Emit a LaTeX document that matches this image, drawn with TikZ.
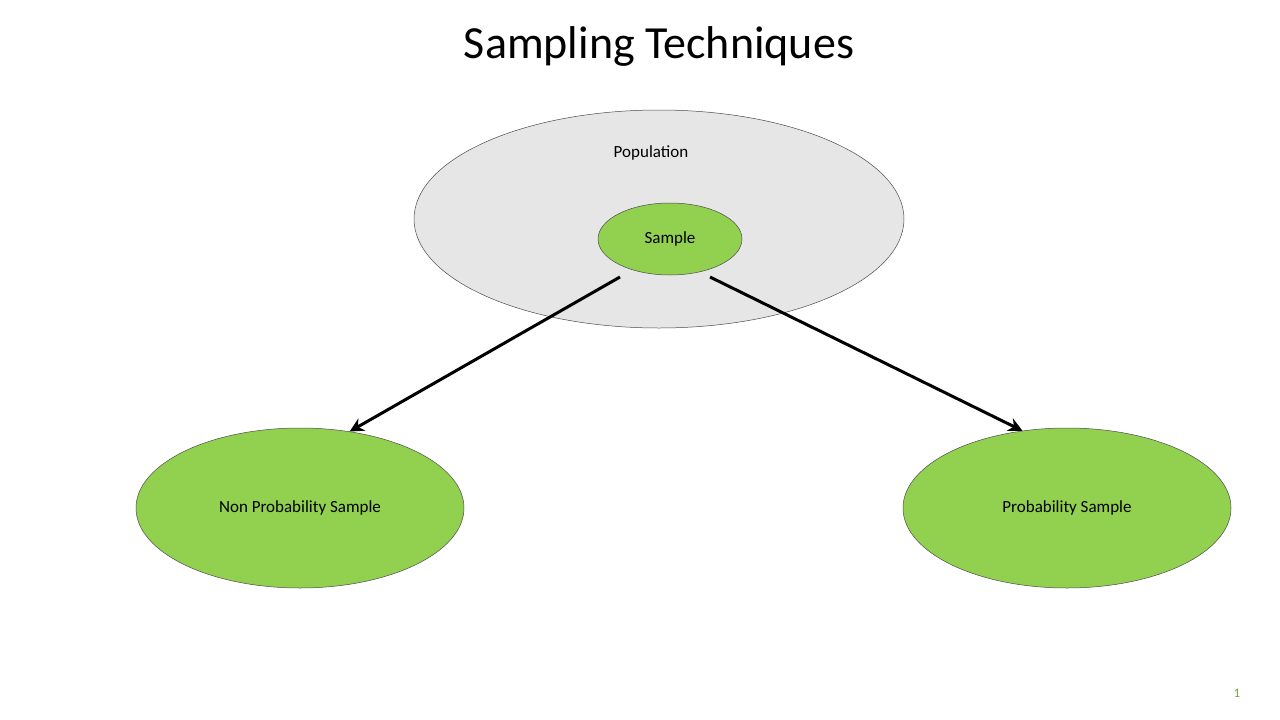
\documentclass[tikz,border=0pt]{standalone}
\usepackage{fontspec}
\setmainfont{Carlito}
\usetikzlibrary{shapes.geometric,arrows.meta}
\definecolor{pop}{HTML}{E6E6E6}
\definecolor{grn}{HTML}{92D050}
\begin{document}
\begin{tikzpicture}[x=1pt,y=-1pt,
  ell/.style={ellipse,draw=black!70,line width=0.5pt,inner sep=0pt},
  lbl/.style={font=\fontsize{17}{20}\selectfont},
  arr/.style={line width=3pt,-{Stealth[length=14pt,width=14pt]}}]
\useasboundingbox[fill=white] (0,0) rectangle (1280,720);
\node[font=\fontsize{46}{50}\selectfont] (title) at (659,46) {Sampling Techniques};
\node[ell,fill=pop,minimum width=490,minimum height=218] (pop) at (659,219) {};
\node[lbl] (poptxt) at (651,153) {Population};
\node[ell,fill=grn,minimum width=144,minimum height=72,lbl] (smp) at (670,239) {Sample};
\node[ell,fill=grn,minimum width=328,minimum height=160,lbl] (non) at (300,508) {Non Probability Sample};
\node[ell,fill=grn,minimum width=328,minimum height=160,lbl] (prob) at (1067,508) {Probability Sample};
\coordinate (s1) at (620,277);
\coordinate (s2) at (710,277);
\draw[arr] (s1) -- (non.57);
\draw[arr] (s2) -- (prob.120);
\node[font=\fontsize{13}{15}\selectfont,text=grn!80!black] (pg) at (1237,693) {1};
\end{tikzpicture}
\end{document}
